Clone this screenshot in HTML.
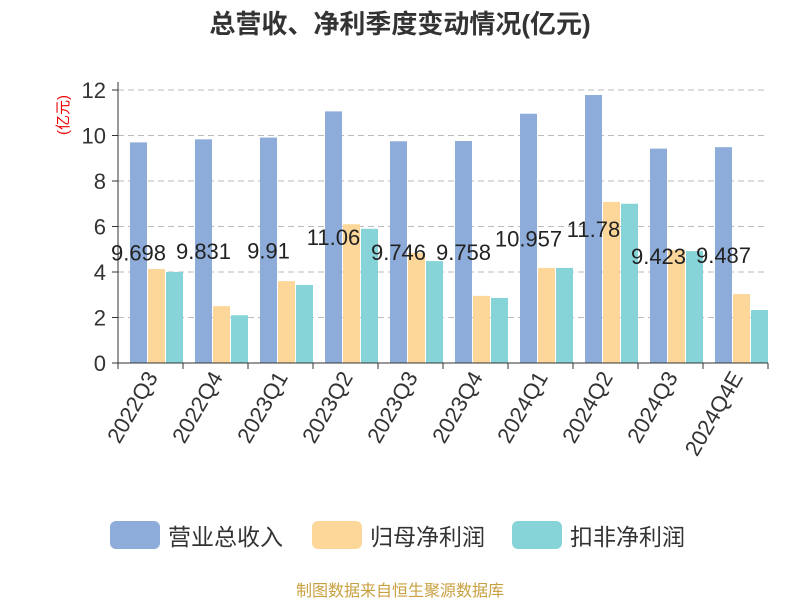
<!DOCTYPE html>
<html><head><meta charset="utf-8"><style>
body{margin:0;background:#fff;font-family:"Liberation Sans","Noto Sans CJK SC",sans-serif;}
svg text{font-family:"Liberation Sans","Noto Sans CJK SC",sans-serif;}
</style></head><body>
<svg id="c" width="800" height="600">
<text x="400" y="33" text-anchor="middle" font-size="26" font-weight="bold" fill="#333">总营收、净利季度变动情况(亿元)</text>
<text transform="translate(68,115) rotate(-90)" text-anchor="middle" font-size="15" fill="#e00">(亿元)</text>
<g id="grid"></g><g id="bars"></g><g id="axes"></g><g id="labels"></g>
<g>
<rect x="110" y="521" width="50" height="28" rx="6" fill="#8eacd9"/>
<text x="168" y="545" font-size="23" fill="#333">营业总收入</text>
<rect x="312" y="521" width="50" height="28" rx="6" fill="#fdd79a"/>
<text x="370" y="545" font-size="23" fill="#333">归母净利润</text>
<rect x="512" y="521" width="50" height="28" rx="6" fill="#86d4d8"/>
<text x="570" y="545" font-size="23" fill="#333">扣非净利润</text>
</g>
<text x="400" y="596" text-anchor="middle" font-size="16" fill="#c8a040">制图数据来自恒生聚源数据库</text>
</svg>
<script>
const categories=["2022Q3","2022Q4","2023Q1","2023Q2","2023Q3","2023Q4","2024Q1","2024Q2","2024Q3","2024Q4E"];
const revenue=[9.698,9.831,9.91,11.06,9.746,9.758,10.957,11.78,9.423,9.487];
const netProfit=[4.13,2.5,3.6,6.1,4.84,2.95,4.18,7.08,4.97,3.03];
const deductedProfit=[4.0,2.1,3.43,5.9,4.48,2.86,4.18,7.0,4.92,2.33];
const revenueLabels=["9.698","9.831","9.91","11.06","9.746","9.758","10.957","11.78","9.423","9.487"];
const yTicks=[0,2,4,6,8,10,12];
const NS="http://www.w3.org/2000/svg";
const x0=118,x1=768,y0=363,yTop=90,yMax=12;
const gw=(x1-x0)/categories.length;
const Y=v=>y0-v/yMax*(y0-yTop);
const X=i=>x0+i*gw;
function mk(t,a,p){const e=document.createElementNS(NS,t);for(const k in a)e.setAttribute(k,a[k]);p.appendChild(e);return e;}
const grid=document.getElementById('grid'),bars=document.getElementById('bars'),axes=document.getElementById('axes'),labels=document.getElementById('labels');
yTicks.forEach(v=>{
 if(v>0){const g=mk('line',{x1:x0,x2:x1,y1:Y(v),y2:Y(v),stroke:'#bbb','stroke-dasharray':'6,4'},grid);
 
 }
 const t=mk('text',{x:x0-12,y:Y(v)+8,'text-anchor':'end','font-size':22,fill:'#333'},axes);t.textContent=v;
 
 
 mk('line',{x1:x0-6,x2:x0,y1:Y(v),y2:Y(v),stroke:'#333'},axes);
});
const series=[[revenue,'#8eacd9','revenue'],[netProfit,'#fdd79a','net-profit'],[deductedProfit,'#86d4d8','deducted-profit']];
const bw=17;
categories.forEach((c,i)=>{
 series.forEach((s,j)=>{
  const v=s[0][i];
  const r=mk('rect',{x:X(i)+12+j*(bw+1),y:Y(v),width:bw,height:y0-Y(v),fill:s[1]},bars);
  
  
 });
 const t=mk('text',{x:X(i)+12+bw/2,y:Y(revenue[i]/2)+8,'text-anchor':'middle','font-size':22,fill:'#222'},labels);
 t.textContent=revenueLabels[i];
 
 
 const cx=X(i)+gw/2;
 const xl=mk('text',{transform:`translate(${cx+8},${y0+14}) rotate(-60)`,'text-anchor':'end','font-size':22,fill:'#333'},axes);
 xl.textContent=c;
 
 
});
for(let i=0;i<=categories.length;i++)mk('line',{x1:X(i),x2:X(i),y1:y0,y2:y0+6,stroke:'#333'},axes);
mk('line',{x1:x0,x2:x0,y1:yTop-8,y2:y0,stroke:'#333'},axes);
mk('line',{x1:x0,x2:x1,y1:y0,y2:y0,stroke:'#333'},axes);
</script>
</body></html>
